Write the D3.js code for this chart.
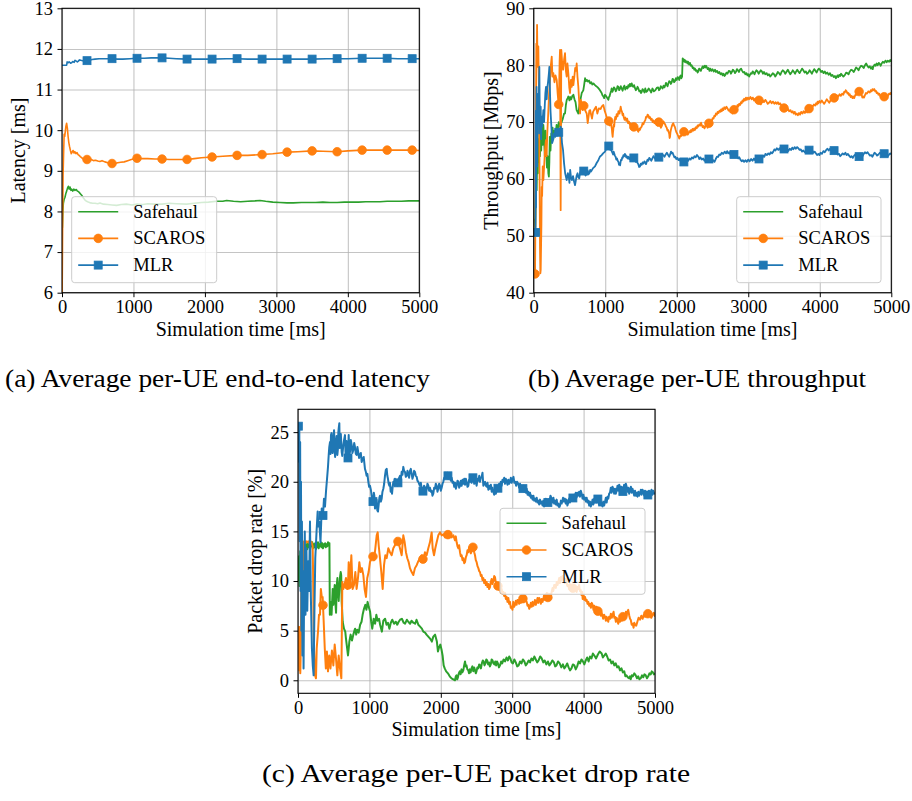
<!DOCTYPE html>
<html>
<head>
<meta charset="utf-8">
<script src="https://cdn.jsdelivr.net/npm/d3@7"></script>
<style>
  body { margin: 0; background: #ffffff; }
  text { font-family: "Liberation Serif", "Times New Roman", serif; fill: #000; }
</style>
</head>
<body>
<svg id="fig" width="912" height="801"></svg>
<script>
// ---- Series: [simulation time (ms), value] ----
const seriesNames = ["Safehaul", "SCAROS", "MLR"];
const xTicks = [0, 1000, 2000, 3000, 4000, 5000];
const latencyTicks = [6, 7, 8, 9, 10, 11, 12, 13];
const throughputTicks = [40, 50, 60, 70, 80, 90];
const dropTicks = [0, 5, 10, 15, 20, 25];
const markerStep = 350;   // one marker every 350 ms on SCAROS / MLR

const latencySafehaul = [[5,7.6],[12,8.0],[19,8.2],[30,8.3],[42,8.35],[55,8.45],[65,8.5],[78,8.58],[89,8.62],[100,8.55],[112,8.6],[125,8.52],[135,8.55],[150,8.5],[165,8.55],[182,8.52],[200,8.54],[215,8.5],[229,8.49],[250,8.45],[275,8.4],[300,8.33],[322,8.28],[345,8.25],[368,8.23],[400,8.21],[430,8.2],[462,8.2],[500,8.19],[532,8.21],[580,8.18],[640,8.17],[700,8.16],[765,8.15],[830,8.17],[900,8.18],[980,8.16],[1050,8.18],[1130,8.17],[1200,8.19],[1300,8.18],[1400,8.18],[1500,8.2],[1600,8.19],[1745,8.18],[1850,8.2],[1950,8.22],[2050,8.23],[2164,8.25],[2250,8.25],[2304,8.27],[2400,8.25],[2500,8.24],[2600,8.25],[2700,8.26],[2771,8.27],[2850,8.25],[2950,8.23],[3050,8.22],[3150,8.21],[3237,8.21],[3350,8.22],[3450,8.22],[3550,8.22],[3650,8.23],[3750,8.22],[3850,8.22],[3950,8.23],[4050,8.23],[4150,8.23],[4250,8.24],[4350,8.24],[4450,8.24],[4550,8.25],[4650,8.25],[4750,8.25],[4850,8.26],[5000,8.26]];
const latencyScaros = [[0,5.5],[8,7.5],[15,8.9],[22,9.4],[30,9.9],[38,9.85],[45,9.95],[55,10.1],[65,10.17],[75,10.05],[85,9.85],[95,9.7],[105,9.6],[118,9.5],[130,9.42],[142,9.46],[155,9.5],[168,9.44],[180,9.47],[195,9.42],[210,9.45],[225,9.4],[240,9.38],[255,9.35],[270,9.33],[290,9.3],[310,9.3],[345,9.28],[380,9.27],[410,9.28],[440,9.25],[470,9.26],[500,9.24],[530,9.23],[560,9.25],[600,9.22],[640,9.2],[670,9.18],[700,9.18],[740,9.18],[780,9.2],[820,9.21],[870,9.22],[920,9.25],[970,9.28],[1040,9.31],[1120,9.3],[1200,9.3],[1300,9.29],[1395,9.29],[1500,9.28],[1600,9.28],[1750,9.28],[1850,9.3],[1950,9.32],[2100,9.34],[2250,9.36],[2450,9.38],[2600,9.38],[2800,9.4],[2950,9.42],[3050,9.44],[3150,9.46],[3300,9.47],[3500,9.49],[3650,9.48],[3850,9.47],[4000,9.49],[4200,9.51],[4400,9.51],[4550,9.51],[4700,9.51],[4900,9.51],[5000,9.5]];
const latencyMlr = [[0,11.6],[65,11.6],[72,11.68],[85,11.66],[100,11.68],[120,11.65],[135,11.66],[150,11.69],[170,11.67],[182,11.72],[200,11.7],[215,11.68],[229,11.7],[245,11.73],[265,11.72],[290,11.71],[320,11.7],[345,11.71],[380,11.72],[420,11.74],[462,11.75],[520,11.76],[600,11.76],[700,11.76],[780,11.75],[850,11.75],[950,11.76],[1040,11.77],[1150,11.77],[1250,11.78],[1395,11.78],[1500,11.77],[1600,11.76],[1750,11.75],[1900,11.75],[2100,11.75],[2300,11.76],[2450,11.76],[2600,11.75],[2800,11.75],[3000,11.75],[3150,11.75],[3300,11.75],[3500,11.75],[3700,11.76],[3850,11.76],[4000,11.76],[4200,11.77],[4400,11.77],[4550,11.77],[4700,11.76],[4900,11.76],[5000,11.76]];

const throughputSafehaul = [[15,53.0],[22,51.5],[28,56],[35,62],[42,58],[50,66],[58,61],[65,67],[72,63],[80,69],[88,64],[96,68],[105,65],[115,70],[125,66],[135,69.5],[145,67],[155,64],[165,68.5],[175,65],[185,62],[195,64],[205,61],[212,60.4],[219,63],[225,67.4],[235,65],[245,68],[255,66.5],[265,69],[275,67],[290,68.5],[305,67.5],[320,69.5],[335,68.5],[350,70],[368,69.2],[385,69.8],[405,70.5],[425,71.5],[438,71.5],[450,73],[462,73.9],[475,74.2],[485,74.5],[500,73.8],[512,74.4],[525,74],[540,74.6],[555,74.8],[570,74],[585,73.5],[600,72.1],[612,71.8],[624,71.5],[640,73],[655,74],[671,75.1],[685,75.4],[694,75.6],[705,76.5],[718,77.7],[730,77.2],[745,77.4],[760,77.1],[775,77.3],[790,76.8],[805,77],[820,76.6],[835,76.8],[857,76.5],[875,76.3],[895,76.1],[915,75.8],[935,75.4],[950,75.1],[962,74.7],[974,74.5],[985,74.2],[997,74.8],[1010,74.6],[1025,74.3],[1044,73.9],[1052,74.4],[1060,74.5],[1068,74.9],[1075,75.2],[1083,75.5],[1090,75.9],[1100,75.3],[1110,75.6],[1122,76.1],[1135,75.9],[1147,75.4],[1160,75.7],[1172,76.3],[1184,76.2],[1195,75.6],[1205,75.8],[1218,76.3],[1230,75.9],[1243,75.5],[1255,76.1],[1268,76.4],[1280,75.7],[1290,76.0],[1300,76.2],[1312,75.9],[1323,76.5],[1334,76.2],[1345,76.7],[1358,76.3],[1370,76.8],[1380,76.4],[1390,76.2],[1403,76.5],[1415,76.0],[1428,75.6],[1440,75.8],[1452,76.2],[1463,75.9],[1477,75.4],[1490,75.5],[1500,75.1],[1510,75.3],[1522,75.8],[1535,75.6],[1548,75.2],[1560,75.9],[1575,75.3],[1590,75.5],[1608,75.9],[1626,75.6],[1643,75.2],[1660,75.9],[1680,75.4],[1700,75.6],[1720,76.0],[1740,76.1],[1752,75.6],[1765,75.8],[1777,76.3],[1789,76.1],[1802,75.9],[1815,76.4],[1828,76.1],[1840,76.5],[1850,76.9],[1860,76.6],[1872,76.3],[1883,76.8],[1895,77.2],[1906,77.1],[1918,76.7],[1930,77.0],[1941,77.6],[1952,77.5],[1963,77.0],[1975,77.2],[1988,77.7],[2000,77.4],[2012,77.9],[2025,77.8],[2035,77.4],[2046,78.0],[2055,78.2],[2065,77.7],[2075,78.0],[2083,81.2],[2092,80.8],[2100,81.0],[2108,80.6],[2115,80.9],[2128,80.5],[2140,80.7],[2150,80.3],[2160,80.6],[2172,80.1],[2185,80.4],[2197,79.9],[2209,80.0],[2222,79.5],[2235,79.6],[2245,79.2],[2255,79.4],[2268,79.0],[2280,79.1],[2291,78.7],[2302,78.9],[2313,79.4],[2325,79.3],[2337,79.0],[2349,79.4],[2362,79.8],[2375,79.5],[2388,79.9],[2400,79.6],[2410,79.9],[2418,79.7],[2432,79.3],[2445,79.5],[2458,79.0],[2470,79.4],[2485,79.0],[2500,79.3],[2518,78.9],[2535,79.2],[2550,78.8],[2565,79.0],[2580,78.6],[2595,78.8],[2612,78.4],[2628,78.6],[2642,78.2],[2655,78.5],[2668,78.1],[2680,78.3],[2695,78.7],[2710,78.5],[2728,79.0],[2745,78.9],[2758,78.5],[2770,78.8],[2785,79.2],[2800,79.0],[2815,78.6],[2830,78.9],[2842,79.3],[2855,79.1],[2870,78.8],[2884,79.2],[2900,79.4],[2915,79.0],[2930,78.7],[2945,78.8],[2960,78.4],[2975,78.6],[2988,78.2],[3000,78.4],[3012,78.0],[3024,78.3],[3037,78.6],[3050,78.5],[3062,78.9],[3075,78.7],[3088,78.4],[3100,78.8],[3115,79.1],[3130,78.9],[3145,78.5],[3160,78.8],[3175,79.1],[3190,78.9],[3205,78.5],[3220,78.8],[3238,78.4],[3257,78.6],[3273,78.2],[3290,78.4],[3308,78.0],[3327,78.3],[3343,78.6],[3360,78.4],[3378,78.0],[3397,78.4],[3413,78.8],[3430,78.6],[3448,78.3],[3465,78.8],[3483,79.1],[3500,78.9],[3518,78.5],[3537,78.9],[3553,79.2],[3570,78.8],[3588,78.4],[3605,78.7],[3622,79.1],[3640,78.8],[3655,78.5],[3670,78.9],[3685,79.2],[3700,78.9],[3718,78.6],[3735,79.0],[3752,79.4],[3770,79.1],[3788,78.7],[3805,78.9],[3822,78.5],[3840,78.7],[3858,79.1],[3875,78.8],[3890,78.5],[3905,78.9],[3922,79.3],[3940,79.0],[3955,78.7],[3970,79.1],[3987,79.4],[4003,79.2],[4020,78.8],[4035,79.0],[4052,78.6],[4070,78.9],[4088,78.5],[4105,78.7],[4124,78.3],[4143,78.6],[4160,78.1],[4175,78.3],[4195,77.9],[4213,78.1],[4225,77.7],[4235,77.9],[4247,78.2],[4259,77.9],[4272,78.3],[4285,78.1],[4298,78.5],[4310,78.3],[4330,78.0],[4352,78.3],[4368,78.7],[4385,78.6],[4402,78.4],[4420,78.9],[4438,79.2],[4455,79.1],[4474,78.8],[4492,79.2],[4508,79.6],[4525,79.4],[4542,79.1],[4560,79.6],[4578,79.9],[4595,79.8],[4614,79.5],[4632,80.0],[4648,80.3],[4665,79.9],[4682,79.6],[4700,79.8],[4715,79.4],[4730,79.7],[4740,79.3],[4748,79.7],[4765,80.1],[4780,79.9],[4795,80.3],[4810,80.0],[4825,80.4],[4840,80.2],[4852,79.9],[4865,80.3],[4882,80.6],[4900,80.4],[4918,80.8],[4935,80.5],[4952,80.8],[4970,80.6],[4985,80.9],[5000,80.6]];
const throughputScaros = [[19,43.3],[25,55],[30,68],[37,83.8],[42,80],[47,87.1],[52,82],[56,79.7],[60,81],[65,83.3],[70,78],[74,73.9],[80,65],[84,56.3],[88,48],[93,43.4],[98,44],[103,48.1],[108,52],[112,58.6],[118,57],[126,62.2],[135,59.8],[145,62],[158,65.1],[170,66.8],[180,64],[190,68],[205,72.1],[215,75],[228,77.4],[240,80],[252,81.5],[262,78.0],[275,78.6],[290,77],[305,78.2],[322,77.4],[335,75],[345,73.5],[350,73.1],[356,76],[362,80.5],[368,82.7],[372,70],[377,54.5],[382,70],[386,82.7],[400,80],[412,79.2],[425,81],[438,82.1],[450,79],[461,78.0],[472,80.3],[485,78.5],[498,76],[508,75.1],[520,77.4],[532,76.2],[545,78],[555,76.5],[568,78.0],[580,79.5],[592,79],[601,80.3],[612,78],[624,76.2],[636,73.5],[648,71.5],[660,73.9],[671,72.8],[684,72.1],[697,73],[710,72.4],[725,71.9],[741,71.5],[755,69.8],[768,71],[778,72],[790,72.1],[802,71.3],[815,70.6],[830,71.8],[848,72.2],[871,72.7],[890,71.5],[910,72.4],[935,72.3],[955,72.8],[974,73.0],[990,72.1],[1005,71.5],[1020,70.9],[1044,69.8],[1052,70.3],[1060,69.4],[1070,70.1],[1080,69.8],[1087,69.2],[1093,68.8],[1098,68.0],[1104,67.4],[1108,68.1],[1112,68.5],[1118,69.6],[1125,69.2],[1132,70.2],[1140,70.9],[1150,70.5],[1160,71.4],[1172,71.0],[1185,71.9],[1200,71.5],[1216,72.7],[1225,72.1],[1235,71.8],[1242,71.2],[1250,71.5],[1260,70.8],[1270,70.4],[1282,70.8],[1295,70.2],[1307,70.6],[1320,69.8],[1332,70.1],[1345,69.5],[1357,69.8],[1370,69.2],[1382,69.6],[1395,69.3],[1408,68.9],[1420,68.7],[1430,69.3],[1440,68.9],[1452,68.5],[1463,68.3],[1474,68.9],[1485,68.6],[1497,69.0],[1510,69.2],[1522,69.8],[1535,69.6],[1548,70.1],[1560,70.3],[1570,70.9],[1580,70.8],[1592,71.3],[1603,71.2],[1614,70.7],[1625,70.9],[1637,70.4],[1650,70.6],[1662,70.0],[1675,70.3],[1688,69.8],[1700,70.0],[1710,70.4],[1720,69.9],[1732,69.4],[1743,69.8],[1754,70.1],[1765,69.5],[1778,69.0],[1790,69.3],[1803,69.7],[1815,70.1],[1826,69.8],[1838,69.6],[1849,69.2],[1860,69.0],[1870,68.5],[1880,68.6],[1888,68.2],[1895,67.9],[1900,67.2],[1906,67.4],[1912,68.2],[1918,68.6],[1924,68.9],[1930,69.2],[1941,69.6],[1952,69.8],[1963,69.4],[1975,69.1],[1985,68.6],[1995,68.2],[2005,68.0],[2015,67.7],[2026,67.4],[2036,67.1],[2048,67.6],[2060,67.5],[2072,67.9],[2085,67.8],[2100,68.3],[2116,68.0],[2128,68.4],[2140,68.1],[2152,67.8],[2165,68.0],[2178,68.4],[2190,68.2],[2200,68.6],[2209,68.3],[2222,68.8],[2235,68.5],[2245,68.9],[2255,68.6],[2268,69.1],[2280,68.9],[2291,69.4],[2302,69.2],[2316,69.6],[2330,69.4],[2340,69.9],[2349,69.5],[2362,69.1],[2375,69.3],[2388,68.9],[2400,69.2],[2410,69.6],[2420,69.4],[2431,69.0],[2442,69.5],[2453,69.9],[2465,69.8],[2478,70.3],[2490,70.1],[2502,70.7],[2515,70.6],[2525,71.1],[2535,71.0],[2548,71.5],[2560,71.3],[2572,71.8],[2585,71.6],[2598,72.0],[2610,71.8],[2620,72.2],[2630,71.9],[2640,72.4],[2651,72.1],[2665,72.6],[2680,72.3],[2695,72.7],[2710,72.4],[2725,72.0],[2740,72.1],[2752,71.7],[2765,71.9],[2778,71.5],[2791,71.8],[2803,72.3],[2815,72.2],[2828,72.7],[2840,72.6],[2850,73.0],[2860,72.7],[2872,73.2],[2885,73.0],[2897,73.5],[2908,73.3],[2919,73.8],[2930,73.6],[2942,74.1],[2955,73.8],[2968,74.3],[2980,73.9],[2995,74.3],[3010,74.0],[3030,74.4],[3048,74.0],[3064,74.3],[3080,73.8],[3095,74.1],[3110,73.6],[3125,73.9],[3140,73.5],[3152,73.9],[3165,73.5],[3176,73.1],[3187,73.4],[3203,73.8],[3220,73.5],[3238,73.9],[3255,73.6],[3272,73.2],[3290,73.4],[3308,73.7],[3327,73.3],[3345,73.6],[3365,73.2],[3383,73.5],[3400,73.2],[3415,73.5],[3430,73.1],[3445,73.3],[3460,73.0],[3475,72.7],[3490,72.8],[3505,72.3],[3520,72.6],[3538,72.1],[3555,72.3],[3572,71.9],[3590,72.1],[3605,71.7],[3620,71.9],[3635,71.5],[3650,71.8],[3663,71.3],[3677,71.5],[3693,71.2],[3710,71.6],[3725,71.3],[3740,71.8],[3758,71.5],[3775,71.9],[3792,71.6],[3808,72.0],[3824,71.7],[3840,72.1],[3855,72.5],[3870,72.4],[3885,72.9],[3900,72.7],[3918,73.1],[3935,72.9],[3948,73.3],[3960,73.1],[3970,73.6],[3979,73.3],[3995,73.7],[4010,73.4],[4028,73.8],[4045,73.5],[4062,73.2],[4080,73.6],[4098,74.0],[4115,73.7],[4132,73.4],[4150,73.8],[4170,74.2],[4189,73.9],[4205,74.4],[4220,74.2],[4240,74.7],[4259,74.5],[4277,74.9],[4295,74.6],[4312,75.0],[4329,74.8],[4340,75.3],[4350,75.2],[4362,75.6],[4375,75.4],[4388,75.0],[4400,75.1],[4410,74.7],[4420,74.9],[4432,74.4],[4445,74.6],[4458,74.2],[4470,74.5],[4481,74.2],[4492,74.6],[4503,74.9],[4515,74.8],[4528,75.3],[4540,75.0],[4551,75.4],[4562,75.1],[4574,75.3],[4585,74.8],[4595,74.3],[4605,74.5],[4618,74.3],[4630,74.7],[4645,75.1],[4660,75.0],[4680,75.4],[4700,75.2],[4712,75.6],[4725,75.4],[4737,75.8],[4748,75.6],[4762,75.8],[4775,75.4],[4785,75.5],[4795,75.1],[4808,75.2],[4820,74.8],[4832,75.0],[4845,74.6],[4857,74.4],[4870,74.5],[4883,74.2],[4897,74.5],[4911,74.3],[4925,74.6],[4940,74.4],[4955,74.7],[4968,75.0],[4980,74.9],[4990,75.1],[5000,74.8]];
const throughputMlr = [[25,50.6],[28,60],[30,72],[33,55],[36,66],[40,76.2],[42,70.9],[45,65],[48,62.2],[52,70],[56,73.9],[60,68],[65,75],[70,71],[74,76],[79,79.7],[83,74],[88,68.0],[93,71],[98,72.7],[104,67],[110,71],[118,69.2],[126,70.5],[135,72.1],[145,70],[155,73],[163,75.1],[172,76.2],[182,74],[190,76],[200,77],[212,78.5],[219,79.7],[226,76.2],[235,72],[247,69.2],[258,66.3],[270,66.8],[285,68.0],[300,67.4],[315,68.5],[330,67.6],[350,68.2],[365,68.6],[378,69.2],[390,67.5],[396,66.3],[410,65.1],[425,62.7],[440,61],[461,59.8],[478,61.0],[490,60.4],[500,59.3],[510,61.6],[522,60.2],[535,59.8],[550,60.5],[565,59.5],[578,58.9],[590,59.8],[601,60.6],[613,61.0],[625,60.3],[637,60.1],[650,61.2],[665,61.5],[680,61.2],[694,61.5],[710,61.2],[725,60.6],[741,60.9],[755,61.5],[765,60.8],[778,61.0],[790,61.6],[800,61.3],[811,61.5],[830,61.9],[857,62.2],[880,62.8],[904,63.3],[925,63.9],[950,64.2],[970,64.5],[997,64.8],[1015,65.3],[1030,65.7],[1045,65.5],[1052,65.9],[1058,65.4],[1064,65.7],[1070,65.1],[1080,65.4],[1090,64.9],[1100,64.6],[1110,64.3],[1118,64.8],[1125,64.5],[1135,64.1],[1145,63.9],[1155,63.4],[1165,63.6],[1175,63.2],[1185,63.0],[1193,62.5],[1200,62.7],[1208,62.4],[1215,63.0],[1222,63.4],[1230,63.3],[1238,63.8],[1245,63.7],[1255,64.2],[1265,64.0],[1275,64.4],[1285,64.2],[1293,63.8],[1300,64.0],[1312,63.6],[1323,63.9],[1334,63.5],[1345,63.8],[1358,63.3],[1370,63.6],[1382,63.2],[1393,63.5],[1404,63.8],[1415,63.4],[1428,63.0],[1440,63.2],[1452,62.8],[1463,62.6],[1474,62.1],[1486,62.2],[1498,62.7],[1510,62.5],[1522,62.9],[1535,62.7],[1548,63.1],[1560,62.9],[1570,62.6],[1580,63.0],[1592,63.4],[1603,63.2],[1616,63.7],[1630,63.5],[1645,63.2],[1660,63.6],[1675,64.0],[1690,63.7],[1705,63.4],[1720,63.8],[1733,64.2],[1747,63.9],[1760,63.6],[1775,64.0],[1792,64.4],[1810,64.2],[1828,63.9],[1845,64.3],[1862,64.6],[1880,64.2],[1895,63.9],[1910,64.4],[1920,64.8],[1929,64.5],[1942,64.6],[1955,64.2],[1968,63.8],[1980,63.9],[1995,63.5],[2010,63.7],[2025,63.3],[2040,63.5],[2055,63.1],[2070,63.2],[2085,62.8],[2101,63.0],[2115,63.4],[2130,63.1],[2145,63.5],[2160,63.2],[2178,63.6],[2195,63.4],[2212,63.8],[2230,63.6],[2248,64.0],[2265,63.8],[2283,64.2],[2302,63.9],[2316,63.5],[2330,63.8],[2350,63.4],[2370,63.6],[2388,63.2],[2405,63.5],[2425,63.9],[2446,63.6],[2463,63.2],[2480,63.5],[2495,63.1],[2510,63.3],[2528,63.0],[2545,63.5],[2562,63.9],[2580,63.9],[2595,64.3],[2610,64.2],[2630,64.6],[2651,64.4],[2670,64.8],[2690,64.5],[2705,64.9],[2720,64.5],[2735,64.7],[2750,64.3],[2770,64.6],[2791,64.2],[2808,64.4],[2825,63.9],[2842,64.1],[2860,63.6],[2875,63.8],[2890,63.4],[2908,63.1],[2925,63.3],[2942,63.0],[2960,63.3],[2980,63.0],[3000,63.4],[3020,63.1],[3040,63.5],[3060,63.2],[3080,63.6],[3095,63.3],[3110,63.6],[3128,63.2],[3145,63.6],[3162,63.3],[3180,63.8],[3195,63.6],[3210,64.1],[3225,63.9],[3240,64.4],[3260,64.2],[3280,64.5],[3298,64.3],[3315,64.7],[3332,64.5],[3350,64.8],[3365,65.2],[3380,65.0],[3400,65.4],[3420,65.1],[3438,65.4],[3455,65.0],[3472,65.3],[3490,65.1],[3508,65.4],[3525,65.0],[3542,65.3],[3560,64.9],[3580,65.3],[3600,65.1],[3615,65.5],[3630,65.2],[3648,65.6],[3665,65.3],[3683,65.6],[3700,65.4],[3718,65.1],[3735,65.2],[3752,64.8],[3770,65.0],[3790,64.7],[3808,65.0],[3826,65.3],[3844,65.0],[3862,65.2],[3880,64.8],[3895,65.0],[3910,64.6],[3928,64.8],[3945,64.5],[3962,64.2],[3980,64.4],[3995,64.2],[4010,64.6],[4030,64.4],[4050,64.9],[4070,64.7],[4090,65.1],[4108,65.3],[4125,65.0],[4142,65.3],[4160,65.0],[4180,65.3],[4198,65.0],[4216,64.8],[4235,64.7],[4252,64.3],[4270,64.4],[4285,64.0],[4300,64.2],[4320,64.5],[4340,64.3],[4358,64.6],[4375,64.2],[4392,64.4],[4410,64.1],[4428,63.8],[4445,64.0],[4462,63.7],[4480,64.1],[4498,64.3],[4515,64.0],[4530,63.7],[4543,64.0],[4562,63.8],[4580,64.2],[4598,64.0],[4615,64.4],[4632,64.7],[4650,64.5],[4668,64.7],[4685,64.4],[4702,64.1],[4720,64.2],[4735,63.9],[4748,64.2],[4766,64.6],[4785,64.4],[4802,64.1],[4820,64.3],[4840,64.6],[4860,64.4],[4878,64.1],[4897,64.4],[4915,64.6],[4935,64.3],[4952,64.0],[4970,64.3],[4985,64.5],[5000,64.3]];

const dropSafehaul = [[8,10.0],[15,12.5],[22,9.5],[30,13.0],[38,10.5],[46,13.5],[55,12.0],[62,13.8],[70,12.9],[80,13.9],[90,13.3],[100,13.8],[110,13.1],[120,13.7],[130,13.2],[140,13.9],[150,13.4],[160,13.8],[170,13.2],[180,13.7],[190,13.5],[200,13.9],[210,13.3],[220,13.7],[230,13.4],[240,13.8],[250,13.2],[260,13.6],[270,13.4],[280,13.9],[290,13.3],[300,13.7],[310,13.5],[320,13.9],[330,13.4],[340,13.8],[350,13.3],[360,13.7],[370,13.5],[380,13.8],[390,13.4],[400,13.7],[410,13.5],[420,13.9],[430,13.6],[440,13.8],[446,6.6],[458,7.9],[470,6.6],[486,9.2],[495,7.6],[504,8.6],[514,9.6],[523,7.9],[533,6.8],[542,9.5],[552,10.3],[560,9.0],[570,8.0],[580,9.5],[590,10.5],[598,10.9],[605,10.6],[612,7.9],[626,5.9],[644,5.2],[662,4.9],[672,4.2],[682,3.6],[700,2.5],[710,3.2],[719,3.9],[737,4.6],[756,4.0],[775,4.6],[790,5.0],[800,5.2],[815,4.6],[830,5.1],[850,4.8],[870,5.6],[890,5.9],[905,6.6],[924,7.2],[943,7.6],[958,7.1],[975,7.9],[990,7.4],[1010,6.9],[1025,5.9],[1040,5.2],[1060,6.2],[1080,5.7],[1097,6.6],[1115,6.0],[1135,6.2],[1150,5.6],[1175,4.9],[1195,6.0],[1220,6.2],[1240,5.6],[1260,5.8],[1280,5.2],[1300,5.8],[1320,6.1],[1345,5.7],[1370,5.9],[1390,5.6],[1410,5.9],[1430,6.1],[1455,6.2],[1480,5.8],[1500,5.7],[1525,6.1],[1545,5.9],[1570,5.7],[1590,6.0],[1615,5.8],[1640,5.7],[1660,6.1],[1685,5.6],[1710,5.4],[1735,5.2],[1755,4.9],[1780,4.8],[1800,4.6],[1825,4.4],[1850,4.2],[1875,3.9],[1895,4.4],[1920,4.6],[1945,3.9],[1960,2.9],[1975,3.3],[1993,3.6],[2010,3.1],[2025,2.5],[2040,1.5],[2055,1.2],[2075,0.9],[2100,0.7],[2125,0.4],[2150,0.2],[2175,0.1],[2199,0.0],[2210,0.4],[2220,0.5],[2230,0.1],[2240,0.3],[2252,0.7],[2265,0.9],[2277,0.6],[2290,1.1],[2302,0.8],[2315,1.0],[2327,1.5],[2339,1.9],[2350,1.4],[2360,1.5],[2372,1.1],[2385,1.0],[2395,0.7],[2405,1.1],[2418,0.8],[2430,1.2],[2442,1.4],[2455,0.9],[2467,1.3],[2480,1.0],[2490,0.7],[2500,0.9],[2512,1.3],[2525,1.2],[2537,1.6],[2550,1.5],[2562,1.2],[2575,1.7],[2588,2.0],[2600,1.9],[2612,1.5],[2625,1.7],[2637,2.1],[2650,2.0],[2662,1.6],[2675,1.8],[2688,1.4],[2700,1.6],[2712,2.1],[2725,2.0],[2737,1.7],[2750,1.6],[2762,1.9],[2775,1.5],[2787,1.9],[2800,1.7],[2815,1.3],[2829,1.5],[2845,1.9],[2860,1.7],[2880,2.1],[2900,1.9],[2920,2.3],[2940,2.0],[2958,2.4],[2975,2.2],[2992,1.8],[3010,1.7],[3030,2.1],[3050,1.8],[3070,1.4],[3090,1.5],[3110,1.9],[3130,1.7],[3150,2.1],[3170,1.9],[3190,1.5],[3210,1.7],[3230,2.0],[3250,1.8],[3270,2.2],[3290,2.0],[3310,2.4],[3330,2.1],[3350,1.8],[3370,2.0],[3392,2.4],[3413,2.2],[3435,1.8],[3455,2.0],[3478,1.6],[3500,1.9],[3520,1.5],[3540,1.7],[3562,2.0],[3585,1.8],[3602,1.4],[3620,1.5],[3642,1.9],[3665,1.7],[3688,1.3],[3710,1.6],[3730,1.2],[3750,1.4],[3770,1.7],[3790,1.3],[3810,1.0],[3830,1.2],[3850,1.6],[3870,1.5],[3890,1.1],[3910,1.4],[3930,1.9],[3950,1.7],[3970,2.1],[3990,1.9],[4010,1.6],[4030,2.0],[4050,2.3],[4070,1.9],[4090,2.4],[4110,2.2],[4130,2.7],[4150,2.5],[4175,2.2],[4200,2.6],[4225,2.9],[4253,2.7],[4270,2.3],[4290,2.5],[4310,2.7],[4330,2.4],[4350,2.0],[4370,2.1],[4390,1.7],[4410,1.9],[4430,1.5],[4450,1.7],[4470,1.3],[4490,1.4],[4510,1.0],[4530,1.2],[4550,0.8],[4570,0.9],[4585,0.4],[4600,0.5],[4620,0.3],[4640,0.2],[4650,0.4],[4660,0.1],[4675,0.5],[4690,0.4],[4710,0.7],[4730,0.5],[4748,0.2],[4765,0.4],[4782,0.1],[4800,0.2],[4818,0.5],[4835,0.3],[4852,0.6],[4870,0.5],[4888,0.2],[4905,0.4],[4922,0.7],[4940,0.6],[4955,0.9],[4970,0.8],[4985,0.6],[5000,0.7]];
const dropScaros = [[10,5.0],[18,1.0],[25,4.7],[32,0.7],[40,3.5],[48,10.5],[56,4.6],[65,9],[75,13.9],[85,14.0],[100,13.8],[115,14.0],[130,13.9],[145,14.0],[160,13.8],[175,14.0],[190,13.9],[205,13.5],[210,11.6],[218,6.0],[224,3.2],[238,0.5],[252,0.2],[262,3.2],[280,4.9],[294,6.6],[308,6.6],[320,9.2],[333,8.4],[345,8.4],[360,5.9],[375,3.2],[390,1.2],[405,2.9],[420,0.9],[438,2.5],[455,1.2],[475,3.0],[495,1.5],[514,3.6],[532,2.2],[551,0.5],[570,2.5],[588,1.2],[607,0.2],[614,5.0],[621,9.9],[635,9.2],[653,9.6],[672,10.3],[690,9.2],[700,9.6],[710,11.9],[728,9.9],[747,12.6],[765,9.2],[784,9.6],[803,10.9],[821,9.2],[840,10.3],[859,11.9],[877,10.9],[896,11.3],[915,10.6],[933,9.2],[952,8.4],[970,10.3],[989,10.9],[1008,11.9],[1030,12.3],[1045,12.6],[1064,12.1],[1083,13.3],[1102,14.6],[1116,14.9],[1130,13.6],[1148,12.3],[1167,10.9],[1186,9.2],[1205,11.6],[1223,12.6],[1242,12.3],[1265,13.3],[1288,12.9],[1312,12.6],[1335,13.3],[1358,13.6],[1382,14.3],[1405,13.9],[1428,13.3],[1452,12.6],[1475,14.6],[1494,13.9],[1512,12.9],[1531,12.3],[1550,11.9],[1568,11.3],[1592,10.9],[1615,10.6],[1638,11.3],[1662,11.6],[1685,12.0],[1708,12.3],[1732,12.6],[1755,12.1],[1778,12.9],[1802,12.6],[1825,13.3],[1848,13.9],[1872,14.9],[1886,13.3],[1905,12.6],[1923,13.3],[1942,13.9],[1965,14.6],[1989,14.9],[2012,14.6],[2035,14.7],[2059,14.4],[2082,14.9],[2106,14.6],[2129,14.8],[2152,14.4],[2176,14.6],[2199,14.1],[2210,14.5],[2222,13.9],[2234,13.5],[2246,13.3],[2257,13.6],[2269,12.9],[2280,12.5],[2292,12.6],[2304,12.1],[2316,12.3],[2328,11.8],[2339,11.9],[2351,12.4],[2362,12.6],[2374,13.1],[2386,12.9],[2397,13.4],[2409,13.3],[2420,12.8],[2432,13.0],[2444,13.5],[2456,13.3],[2468,12.9],[2479,12.6],[2490,12.1],[2502,11.9],[2514,11.5],[2526,11.3],[2538,11.0],[2549,10.9],[2561,10.5],[2572,10.6],[2584,10.1],[2596,10.3],[2608,9.8],[2620,10.1],[2631,9.6],[2642,9.9],[2654,9.4],[2665,9.7],[2677,9.2],[2689,9.4],[2700,9.9],[2712,10.2],[2724,9.7],[2736,10.0],[2748,10.5],[2759,10.4],[2771,9.8],[2782,9.9],[2794,9.4],[2806,9.6],[2817,9.1],[2829,9.2],[2841,8.8],[2852,9.2],[2864,8.7],[2876,8.9],[2888,8.5],[2899,8.8],[2911,8.2],[2922,8.4],[2934,7.9],[2946,8.3],[2957,7.7],[2969,7.9],[2980,7.3],[2992,7.4],[3003,7.1],[3015,7.9],[3027,7.4],[3039,7.6],[3050,8.0],[3062,7.6],[3073,8.1],[3085,8.1],[3097,7.7],[3110,8.2],[3121,7.8],[3133,8.1],[3145,8.5],[3156,7.9],[3168,8.6],[3180,8.4],[3192,8.0],[3203,7.9],[3215,7.5],[3226,7.6],[3238,7.2],[3250,7.4],[3261,7.8],[3273,7.4],[3285,7.9],[3296,7.5],[3306,7.7],[3318,8.1],[3330,7.6],[3343,7.9],[3355,8.3],[3366,7.8],[3378,8.3],[3390,8.1],[3401,7.7],[3413,8.2],[3425,7.9],[3436,8.2],[3448,8.6],[3460,8.1],[3473,8.4],[3485,8.8],[3495,8.3],[3506,8.4],[3518,8.1],[3530,8.7],[3541,8.5],[3553,8.9],[3565,9.3],[3576,9.0],[3588,9.6],[3599,9.6],[3611,9.3],[3623,9.9],[3635,9.6],[3646,9.9],[3658,10.3],[3669,9.8],[3681,10.4],[3692,10.1],[3704,10.5],[3715,10.1],[3725,10.3],[3737,9.8],[3750,10.2],[3762,9.9],[3773,9.5],[3785,9.6],[3797,9.2],[3808,9.7],[3818,9.4],[3830,9.0],[3843,9.4],[3855,9.2],[3867,9.6],[3880,9.1],[3892,9.3],[3903,8.9],[3915,9.4],[3925,9.2],[3937,9.6],[3948,9.0],[3959,9.1],[3970,8.6],[3980,8.9],[3987,8.2],[3998,8.6],[4010,8.1],[4020,8.4],[4032,8.0],[4043,8.1],[4055,7.7],[4066,7.9],[4078,7.5],[4090,7.7],[4102,7.3],[4114,7.8],[4127,7.6],[4138,7.1],[4150,7.5],[4160,7.4],[4172,7.0],[4183,7.4],[4193,7.2],[4205,6.8],[4218,7.1],[4230,6.9],[4242,6.5],[4252,6.8],[4262,6.6],[4274,6.2],[4287,6.6],[4300,6.4],[4312,6.0],[4322,6.4],[4333,6.2],[4345,5.9],[4357,6.4],[4370,6.2],[4382,6.7],[4395,6.3],[4407,6.6],[4420,6.9],[4430,6.3],[4440,6.4],[4452,5.9],[4463,6.3],[4473,6.1],[4485,5.7],[4497,6.2],[4510,5.9],[4522,6.4],[4535,6.0],[4547,6.3],[4558,6.7],[4570,6.2],[4580,6.4],[4592,6.9],[4603,6.5],[4613,6.9],[4625,7.1],[4640,6.5],[4650,6.2],[4660,6.1],[4674,5.6],[4688,5.7],[4700,5.3],[4710,5.8],[4720,5.6],[4737,5.5],[4753,5.9],[4770,6.3],[4790,6.1],[4808,6.5],[4827,6.2],[4843,6.6],[4860,6.4],[4876,6.8],[4893,6.6],[4912,6.9],[4930,6.6],[4948,6.3],[4967,6.6],[4983,6.8],[5000,6.4]];
const dropMlr = [[5,25.6],[12,22],[18,25.7],[24,14],[30,24],[36,9],[42,20],[48,5],[55,16],[62,2.5],[70,11],[78,1.2],[86,9],[95,15.0],[105,6.6],[118,13.3],[130,7],[142,12],[155,9],[168,16.0],[180,8.5],[195,3.2],[207,1.5],[219,0.5],[230,7],[242,12.3],[260,15.0],[275,17.0],[285,15.5],[298,16.0],[315,13.9],[332,17.3],[350,16.6],[364,18.3],[378,17.5],[392,19.0],[410,20.6],[420,21.5],[430,22.7],[438,23.5],[448,24.0],[455,22.8],[462,24.7],[470,24.9],[476,23.3],[485,22.9],[495,24.3],[505,25.2],[514,23.0],[520,22.5],[532,24.0],[540,24.6],[551,22.7],[558,23.2],[565,25.0],[572,25.5],[579,25.9],[584,23.4],[589,24.0],[600,24.8],[612,23.0],[620,22.6],[635,23.7],[645,24.2],[658,24.7],[665,23.0],[672,22.7],[680,24.1],[691,23.0],[700,22.4],[710,24.7],[720,22.8],[728,23.0],[740,24.2],[752,23.7],[762,22.9],[775,23.2],[787,23.9],[798,23.5],[810,22.8],[821,22.7],[832,23.5],[845,22.9],[855,22.4],[868,22.7],[880,22.9],[892,22.0],[905,22.3],[920,22.5],[938,21.3],[950,21.0],[961,20.6],[972,20.8],[985,20.0],[996,19.5],[1008,19.6],[1020,19.2],[1032,18.6],[1044,18.0],[1055,18.0],[1062,18.9],[1069,18.6],[1078,17.3],[1088,17.5],[1100,18.2],[1111,17.1],[1120,17.0],[1130,17.7],[1140,18.4],[1148,18.6],[1160,18.0],[1172,18.3],[1183,19.0],[1195,19.3],[1207,19.8],[1218,20.6],[1230,21.2],[1242,21.3],[1251,20.6],[1260,20.3],[1270,19.8],[1279,19.6],[1288,19.9],[1298,19.0],[1307,19.4],[1317,18.8],[1326,19.5],[1335,20.0],[1346,19.7],[1358,20.3],[1370,19.7],[1382,20.0],[1393,19.6],[1405,20.1],[1416,20.4],[1428,20.6],[1440,20.2],[1452,21.0],[1463,20.7],[1475,21.5],[1486,21.1],[1498,21.0],[1510,20.5],[1522,20.6],[1533,21.1],[1545,20.8],[1556,20.4],[1568,21.1],[1580,21.3],[1592,20.8],[1603,20.3],[1615,20.6],[1626,21.1],[1638,21.0],[1650,20.6],[1662,20.5],[1673,20.1],[1685,20.0],[1696,19.8],[1708,19.6],[1720,19.9],[1732,19.3],[1743,19.0],[1755,19.1],[1766,19.6],[1778,19.4],[1790,19.0],[1802,19.3],[1813,19.8],[1825,19.6],[1836,19.1],[1848,19.4],[1860,19.0],[1872,19.1],[1883,18.6],[1895,18.8],[1907,19.4],[1919,19.3],[1930,19.8],[1942,19.6],[1953,19.0],[1965,19.3],[1977,19.8],[1989,19.6],[2000,19.1],[2012,19.4],[2024,19.8],[2035,20.0],[2047,20.4],[2059,20.5],[2070,20.9],[2082,20.6],[2094,20.9],[2106,20.3],[2118,20.7],[2129,20.5],[2141,20.1],[2152,20.4],[2164,19.9],[2176,20.0],[2188,19.5],[2199,19.9],[2211,19.3],[2222,19.6],[2234,20.1],[2246,20.0],[2257,19.4],[2269,19.6],[2281,20.1],[2292,19.6],[2304,20.2],[2316,19.8],[2328,20.3],[2339,19.7],[2351,20.3],[2362,20.0],[2374,19.5],[2386,19.6],[2397,20.2],[2409,20.0],[2421,20.4],[2432,19.9],[2444,20.5],[2456,20.3],[2468,19.8],[2479,20.2],[2490,20.0],[2502,19.6],[2514,20.3],[2526,20.1],[2538,20.6],[2549,20.0],[2561,20.4],[2572,20.5],[2584,20.9],[2596,19.6],[2608,19.9],[2619,20.0],[2631,19.6],[2642,19.5],[2654,19.9],[2666,19.2],[2678,19.6],[2689,19.3],[2701,19.7],[2713,19.0],[2724,19.4],[2736,19.0],[2748,18.7],[2759,19.3],[2771,18.8],[2782,19.1],[2794,19.5],[2806,19.2],[2817,19.8],[2829,19.6],[2841,20.0],[2852,19.6],[2864,20.2],[2876,20.0],[2888,20.4],[2899,19.8],[2911,20.3],[2922,20.1],[2934,19.7],[2946,20.2],[2957,19.8],[2969,20.0],[2981,20.4],[2993,19.9],[3006,20.3],[3018,20.5],[3030,19.9],[3043,20.0],[3055,19.6],[3068,20.0],[3085,19.8],[3097,19.4],[3110,19.8],[3121,19.2],[3133,19.5],[3145,19.1],[3157,19.6],[3168,19.0],[3180,19.3],[3192,18.9],[3203,19.3],[3215,18.7],[3226,19.0],[3238,18.6],[3250,18.9],[3261,18.4],[3273,18.6],[3285,18.2],[3297,18.6],[3308,18.1],[3320,18.3],[3331,18.0],[3343,18.4],[3355,17.9],[3366,18.1],[3378,17.7],[3390,18.2],[3401,17.8],[3413,18.0],[3425,17.6],[3436,18.1],[3448,17.5],[3460,17.8],[3471,18.3],[3483,18.1],[3495,17.7],[3507,18.2],[3520,18.0],[3536,18.6],[3553,18.3],[3565,17.9],[3577,18.4],[3588,17.8],[3599,18.1],[3611,17.7],[3623,18.2],[3635,17.6],[3646,17.8],[3658,17.4],[3670,17.6],[3682,18.1],[3692,17.8],[3700,18.0],[3712,18.4],[3725,18.0],[3738,18.3],[3750,17.8],[3762,18.2],[3773,17.6],[3785,17.9],[3797,18.3],[3808,17.9],[3820,18.4],[3832,18.1],[3843,18.6],[3855,18.2],[3867,18.7],[3878,18.5],[3890,18.9],[3902,18.4],[3913,18.9],[3925,18.6],[3937,19.0],[3949,18.5],[3961,19.1],[3973,18.8],[3985,18.3],[3997,18.7],[4008,18.2],[4020,18.4],[4032,18.0],[4043,18.4],[4055,17.9],[4066,18.1],[4078,17.6],[4090,18.0],[4101,17.5],[4113,17.8],[4125,18.2],[4136,17.7],[4148,18.3],[4160,17.9],[4171,18.4],[4183,17.9],[4195,18.4],[4206,18.1],[4218,17.6],[4230,18.0],[4241,17.6],[4253,17.9],[4265,17.5],[4276,18.0],[4288,17.6],[4300,18.0],[4312,18.4],[4323,17.9],[4335,18.5],[4346,18.3],[4358,18.8],[4370,18.9],[4381,19.4],[4393,18.9],[4404,19.5],[4416,19.3],[4428,18.8],[4440,19.3],[4451,18.8],[4463,19.1],[4475,19.6],[4487,19.1],[4498,19.7],[4510,19.5],[4522,19.0],[4533,19.5],[4545,18.9],[4557,19.2],[4568,19.7],[4580,19.2],[4592,19.8],[4603,19.5],[4615,19.0],[4627,19.4],[4638,18.8],[4650,19.1],[4662,19.5],[4673,18.9],[4685,19.3],[4697,19.0],[4708,18.6],[4720,19.1],[4732,18.6],[4743,18.9],[4755,18.5],[4767,19.0],[4778,18.6],[4790,18.8],[4802,19.2],[4814,18.7],[4825,19.2],[4837,19.0],[4849,18.6],[4860,19.1],[4872,18.6],[4893,18.9],[4905,18.5],[4916,19.1],[4928,18.6],[4939,18.9],[4951,19.2],[4963,18.7],[4975,19.1],[4988,18.8],[5000,18.9]];

// ---- Styling ----
const FONT = '"Liberation Serif", "Times New Roman", serif';
const colors = { Safehaul: "#2ca02c", SCAROS: "#ff7f0e", MLR: "#1f77b4" };
const markerShape = { Safehaul: null, SCAROS: "circle", MLR: "square" };

const panels = [
  { id: "a", box: [62, 8.3, 419.3, 292.7], yDomain: [6, 13], yTicks: latencyTicks,
    yLabel: "Latency [ms]", yLabelX: 18, lineWidth: 1.6,
    data: { Safehaul: latencySafehaul, SCAROS: latencyScaros, MLR: latencyMlr },
    firstMarker: false,
    legend: { x: 71.7, y: 196.7, w: 145, h: 86 },
    caption: "(a) Average per-UE end-to-end latency", captionX: 217.5, captionY: 387, captionW: 425 },
  { id: "b", box: [533.7, 8.3, 891.3, 292.7], yDomain: [40, 90], yTicks: throughputTicks,
    yLabel: "Throughput [Mbps]", yLabelX: 491, lineWidth: 1.8,
    data: { Safehaul: throughputSafehaul, SCAROS: throughputScaros, MLR: throughputMlr },
    firstMarker: true,
    legend: { x: 736.7, y: 196.7, w: 144.3, h: 86 },
    caption: "(b) Average per-UE throughput", captionX: 697, captionY: 387, captionW: 338 },
  { id: "c", box: [298, 409.3, 655, 693.3], yDomain: [-1.31, 27.3], yTicks: dropTicks,
    yLabel: "Packet drop rate [%]", yLabelX: 255, lineWidth: 2.0,
    data: { Safehaul: dropSafehaul, SCAROS: dropScaros, MLR: dropMlr },
    firstMarker: true,
    legend: { x: 500, y: 508.3, w: 145, h: 86 },
    caption: "(c) Average per-UE packet drop rate", captionX: 476, captionY: 782, captionW: 428 }
];

const svg = d3.select("#fig");
const tickFont = 18.5, labelFont = 20, legendFont = 18.5, captionFont = 25.5;

// value of a series at time t (linear between recorded samples)
function valueAt(series, t) {
  const i = d3.bisector(d => d[0]).left(series, t);
  if (i <= 0) return series[0][1];
  if (i >= series.length) return series[series.length - 1][1];
  const a = series[i - 1], b = series[i];
  return a[1] + (b[1] - a[1]) * (t - a[0]) / (b[0] - a[0]);
}

function drawMarker(sel, shape, color, cx, cy) {
  if (shape === "circle") {
    sel.append("circle").attr("cx", cx).attr("cy", cy).attr("r", 4.3)
      .attr("fill", color).attr("stroke", color).attr("stroke-width", 0.8);
  } else if (shape === "square") {
    sel.append("rect").attr("x", cx - 4).attr("y", cy - 4).attr("width", 8).attr("height", 8)
      .attr("fill", color).attr("stroke", color).attr("stroke-width", 0.8);
  }
}

function serifText(sel, size) {
  return sel.style("font-family", FONT).style("font-size", size + "px").style("fill", "#000");
}

panels.forEach(p => {
  const [x0, y0, x1, y1] = p.box;
  const w = x1 - x0, h = y1 - y0;
  const x = d3.scaleLinear().domain([0, 5000]).range([0, w]);
  const y = d3.scaleLinear().domain(p.yDomain).range([h, 0]);
  const g = svg.append("g").attr("transform", `translate(${x0},${y0})`);

  const clipId = "clip-" + p.id;
  g.append("clipPath").attr("id", clipId)
    .append("rect").attr("x", 0).attr("y", 0).attr("width", w).attr("height", h);

  // grid
  const grid = g.append("g").attr("class", "grid");
  grid.append("g").attr("transform", `translate(0,${h})`)
    .call(d3.axisBottom(x).tickValues(xTicks).tickSize(-h).tickFormat(""));
  grid.append("g")
    .call(d3.axisLeft(y).tickValues(p.yTicks).tickSize(-w).tickFormat(""));
  grid.selectAll(".domain").remove();
  grid.selectAll("line").attr("stroke", "#b0b0b0").attr("stroke-opacity", 0.75).attr("stroke-width", 1.1);

  // series lines and markers
  const plot = g.append("g").attr("clip-path", `url(#${clipId})`);
  const line = d3.line().x(d => x(d[0])).y(d => y(d[1]));
  seriesNames.forEach(name => {
    const s = p.data[name];
    plot.append("path").datum(s)
      .attr("d", line)
      .attr("fill", "none")
      .attr("stroke", colors[name])
      .attr("stroke-width", p.lineWidth)
      .attr("stroke-linejoin", "round");
    if (markerShape[name]) {
      const times = d3.range(markerStep, 5000, markerStep);
      const pts = times.map(t => [t, valueAt(s, t)]);
      if (p.firstMarker) pts.unshift(s[0]);
      pts.forEach(d => drawMarker(plot, markerShape[name], colors[name], x(d[0]), y(d[1])));
    }
  });

  // axes
  const ax = g.append("g").attr("transform", `translate(0,${h})`)
    .call(d3.axisBottom(x).tickValues(xTicks).tickSize(4.5).tickPadding(3).tickFormat(d3.format("d")));
  const ay = g.append("g")
    .call(d3.axisLeft(y).tickValues(p.yTicks).tickSize(4.5).tickPadding(4.5).tickFormat(d3.format("d")));
  [ax, ay].forEach(a => {
    a.select(".domain").remove();
    a.selectAll("line").attr("stroke", "#000").attr("stroke-width", 1);
    serifText(a.selectAll("text"), tickFont);
  });
  // frame
  g.append("rect").attr("x", 0).attr("y", 0).attr("width", w).attr("height", h)
    .attr("fill", "none").attr("stroke", "#000").attr("stroke-width", 1.1);

  // axis titles
  serifText(g.append("text").attr("x", w / 2).attr("y", h + 43)
    .attr("text-anchor", "middle"), labelFont)
    .text("Simulation time [ms]");
  serifText(svg.append("text")
    .attr("transform", `translate(${p.yLabelX},${y0 + h / 2}) rotate(-90)`)
    .attr("text-anchor", "middle").attr("dominant-baseline", "central"), labelFont)
    .text(p.yLabel);

  // legend
  const L = p.legend;
  const lg = svg.append("g");
  lg.append("rect").attr("x", L.x).attr("y", L.y).attr("width", L.w).attr("height", L.h)
    .attr("rx", 3).attr("fill", "#fff").attr("fill-opacity", 0.8)
    .attr("stroke", "#cccccc").attr("stroke-width", 1);
  seriesNames.forEach((name, i) => {
    const cy = L.y + 15 + i * 26.7;
    lg.append("line").attr("x1", L.x + 6.5).attr("x2", L.x + 46.5)
      .attr("y1", cy).attr("y2", cy)
      .attr("stroke", colors[name]).attr("stroke-width", 1.6);
    drawMarker(lg, markerShape[name], colors[name], L.x + 26.5, cy);
    serifText(lg.append("text").attr("x", L.x + 61.5).attr("y", cy)
      .attr("dominant-baseline", "central"), legendFont)
      .text(name);
  });

  // caption
  serifText(svg.append("text").attr("x", p.captionX).attr("y", p.captionY)
    .attr("text-anchor", "middle")
    .attr("textLength", p.captionW).attr("lengthAdjust", "spacingAndGlyphs"), captionFont)
    .text(p.caption);
});
</script>
</body>
</html>
